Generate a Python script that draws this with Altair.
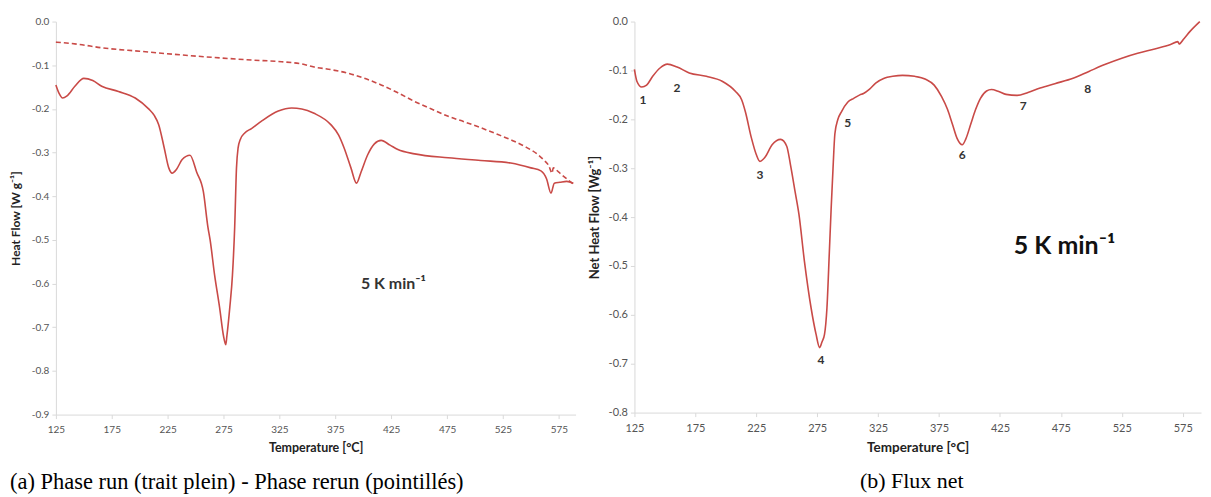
import altair as alt
import pandas as pd

# ---- Panel (a): run (solid) ----
run_T = [125, 128, 131, 135, 142, 150, 158, 166, 181, 196, 208, 213, 217, 222, 226, 229, 233, 238, 245, 251,
         257, 261, 263, 267, 271.5, 275, 277, 278, 280.6, 283, 285, 286.6, 288, 290, 294, 300, 309, 324, 336,
         345, 356, 371, 378, 383, 389, 394, 398, 404, 410, 416, 424, 431, 446, 476, 505, 532, 550, 559, 564,
         568, 571, 576, 582, 588]
run_V = [-0.145, -0.165, -0.175, -0.17, -0.148, -0.13, -0.135, -0.148, -0.16, -0.175, -0.2, -0.215, -0.236,
         -0.29, -0.335, -0.347, -0.338, -0.316, -0.306, -0.345, -0.39, -0.47, -0.5, -0.58, -0.655, -0.72,
         -0.74, -0.72, -0.655, -0.58, -0.47, -0.335, -0.29, -0.27, -0.255, -0.245, -0.228, -0.205, -0.198,
         -0.2, -0.21, -0.236, -0.26, -0.29, -0.335, -0.37, -0.345, -0.305, -0.28, -0.272, -0.283, -0.293,
         -0.303, -0.312, -0.318, -0.324, -0.335, -0.342, -0.36, -0.393, -0.37, -0.368, -0.366, -0.37]

# ---- Panel (a): rerun (dashed) ----
rerun_T = [125, 145, 166, 200, 255, 300, 327, 345, 356, 371, 386, 401, 416, 431, 446, 461, 476, 491, 505,
           520, 535, 546, 556, 562, 566, 569, 570, 575, 581, 588]
rerun_V = [-0.047, -0.052, -0.06, -0.068, -0.08, -0.088, -0.092, -0.097, -0.104, -0.11, -0.118, -0.13,
           -0.145, -0.163, -0.183, -0.2, -0.217, -0.23, -0.243, -0.258, -0.274, -0.288, -0.304, -0.318,
           -0.33, -0.347, -0.335, -0.345, -0.358, -0.372]

# ---- Panel (b): net heat flow ----
net_T = [125, 127, 131, 135, 140, 146, 152, 160, 170, 184, 197, 208, 213, 216, 221, 225, 228, 232, 238, 245,
         250, 253, 257, 260, 264.5, 270, 274, 277, 279, 281, 283, 285, 286.5, 288, 289.5, 292, 295, 300, 305,
         310, 313, 318, 323, 330, 337, 345, 355, 364, 371, 377, 382, 386, 390, 394, 397, 401, 405, 409, 414,
         418, 424, 430, 439, 448, 458, 470, 485, 498, 511, 525, 538, 552, 565, 571, 572, 576, 581, 589]
net_V = [-0.098, -0.122, -0.134, -0.13, -0.112, -0.095, -0.087, -0.093, -0.105, -0.112, -0.122, -0.143,
         -0.16, -0.184, -0.238, -0.272, -0.286, -0.278, -0.252, -0.241, -0.255, -0.292, -0.35, -0.394, -0.49,
         -0.586, -0.639, -0.667, -0.655, -0.64, -0.586, -0.47, -0.38, -0.3, -0.23, -0.2, -0.184, -0.165,
         -0.157, -0.15, -0.147, -0.138, -0.126, -0.116, -0.112, -0.11, -0.112, -0.118, -0.13, -0.153, -0.18,
         -0.21, -0.24, -0.252, -0.24, -0.21, -0.18, -0.157, -0.142, -0.139, -0.143, -0.149, -0.151, -0.145,
         -0.136, -0.127, -0.116, -0.102, -0.088, -0.075, -0.065, -0.056, -0.047, -0.041, -0.046, -0.035,
         -0.02, 0.0]

# peak number labels (panel b)
peak_labels = ["1", "2", "3", "4", "5", "6", "7", "8"]
peak_T = [132, 160, 228, 278, 300, 394, 444, 497]
peak_V = [-0.161, -0.135, -0.313, -0.692, -0.208, -0.274, -0.173, -0.137]

rate_text = "5 K min\u207b\u00b9"
x_ticks = [125, 175, 225, 275, 325, 375, 425, 475, 525, 575]
left_y_ticks = [0.0, -0.1, -0.2, -0.3, -0.4, -0.5, -0.6, -0.7, -0.8, -0.9]
right_y_ticks = [0.0, -0.1, -0.2, -0.3, -0.4, -0.5, -0.6, -0.7, -0.8]

RED = "#c94a47"
LABEL_EXPR = "replace(format(datum.value, '.1f'), '\u2212', '-')"

run_df = pd.DataFrame({"T": run_T, "V": run_V})
rerun_df = pd.DataFrame({"T": rerun_T, "V": rerun_V})
net_df = pd.DataFrame({"T": net_T, "V": net_V})
peaks_df = pd.DataFrame({"T": peak_T, "V": peak_V, "label": peak_labels})


def xenc(lfs, tfs):
    return alt.X("T:Q", scale=alt.Scale(domain=[125, 590], nice=False, zero=False),
                 axis=alt.Axis(values=x_ticks, title="Temperature [\u00b0C]", tickSize=4, labelFlush=False,
                               labelPadding=6, titlePadding=7, labelFontSize=lfs, titleFontSize=tfs))


def yenc(dom, ticks, title, lfs, tfs):
    return alt.Y("V:Q", scale=alt.Scale(domain=dom, nice=False, zero=False),
                 axis=alt.Axis(values=ticks, title=title, tickSize=4, labelExpr=LABEL_EXPR, labelFlush=False,
                               minExtent=28, maxExtent=28, titlePadding=5, labelPadding=3,
                               labelFontSize=lfs, titleFontSize=tfs))


# Left panel
xl = xenc(10, 12.5)
yl = yenc([-0.9, 0.0], left_y_ticks, "Heat Flow [W g\u207b\u00b9]", 10, 12)
left_run = alt.Chart(run_df).mark_line(color=RED, strokeWidth=1.6, interpolate="monotone").encode(x=xl, y=yl)
left_rerun = alt.Chart(rerun_df).mark_line(color=RED, strokeWidth=1.6, strokeDash=[5, 3],
                                           interpolate="monotone").encode(x=xl, y=yl)
left_txt = alt.Chart(pd.DataFrame({"T": [427], "V": [-0.60], "t": [rate_text]})).mark_text(
    font="Lato", fontSize=16, fontWeight="bold", color="#333333").encode(
    x=alt.X("T:Q"), y=alt.Y("V:Q"), text="t:N")
left = alt.layer(left_rerun, left_run, left_txt).properties(
    width=521, height=394,
    title=alt.TitleParams("(a) Phase run (trait plein) - Phase rerun (pointill\u00e9s)", orient="bottom",
                          anchor="start", frame="bounds", offset=17, font="Liberation Serif", fontSize=22.5,
                          fontWeight="normal", color="#000000"))

# Right panel
xr = xenc(11, 13.5)
yr = yenc([-0.8, 0.0], right_y_ticks, "Net Heat Flow [Wg\u207b\u00b9]", 11, 13)
right_line = alt.Chart(net_df).mark_line(color=RED, strokeWidth=1.6, interpolate="monotone").encode(x=xr, y=yr)
right_nums = alt.Chart(peaks_df).mark_text(font="Lato", fontSize=12, fontWeight="bold", color="#333333").encode(
    x=alt.X("T:Q"), y=alt.Y("V:Q"), text="label:N")
right_txt = alt.Chart(pd.DataFrame({"T": [478], "V": [-0.459], "t": [rate_text]})).mark_text(
    font="Lato", fontSize=25, fontWeight="bold", color="#111111").encode(
    x=alt.X("T:Q"), y=alt.Y("V:Q"), text="t:N")
right = alt.layer(right_line, right_nums, right_txt).properties(
    width=568, height=392,
    title=alt.TitleParams("(b) Flux net", orient="bottom", anchor="middle", dx=-6, offset=17,
                          font="Liberation Serif", fontSize=22, fontWeight="normal", color="#000000"))

chart = alt.hconcat(left, right, spacing=12).properties(
    padding={"left": 2, "top": 7, "right": 0, "bottom": 0}
).configure_view(stroke=None).configure_axis(
    grid=False, domainColor="#d9d9d9", tickColor="#d9d9d9",
    labelFont="Lato", labelColor="#555555",
    titleFont="Lato", titleFontWeight="bold", titleColor="#222222"
)

chart.save("out.html", embed_options={"renderer": "svg", "actions": False})
